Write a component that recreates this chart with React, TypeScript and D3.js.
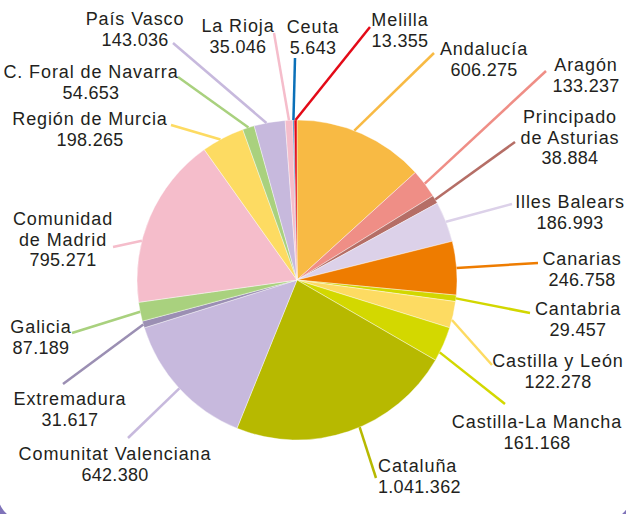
import React from "react";
import * as d3 from "d3";

const regions = [
  "Andalucía", "Aragón", "Principado de Asturias", "Illes Balears", "Canarias",
  "Cantabria", "Castilla y León", "Castilla-La Mancha", "Cataluña",
  "Comunitat Valenciana", "Extremadura", "Galicia", "Comunidad de Madrid",
  "Región de Murcia", "C. Foral de Navarra", "País Vasco", "La Rioja", "Ceuta", "Melilla",
];
const values = [
  606275, 133237, 38884, 186993, 246758, 29457, 122278, 161168, 1041362,
  642380, 31617, 87189, 795271, 198265, 54653, 143036, 35046, 5643, 13355,
];
const nameLines = [
  ["Andalucía"], ["Aragón"], ["Principado", "de Asturias"], ["Illes Balears"], ["Canarias"],
  ["Cantabria"], ["Castilla y León"], ["Castilla-La Mancha"], ["Cataluña"],
  ["Comunitat Valenciana"], ["Extremadura"], ["Galicia"], ["Comunidad", "de Madrid"],
  ["Región de Murcia"], ["C. Foral de Navarra"], ["País Vasco"], ["La Rioja"], ["Ceuta"], ["Melilla"],
];
const colors = [
  "#F8BA44", "#EF8E86", "#B56E66", "#DCD1E9", "#EE7C00",
  "#D2D700", "#FDDB62", "#D3D800", "#B7B900",
  "#C7B9DD", "#9B8FB3", "#A9D17E", "#F5BDCB",
  "#FDDB62", "#A9D17E", "#C7B9DD", "#F5BDCB", "#0B70B8", "#E30A17",
];

// Layout: label anchor (x, first baseline), text anchor, leader outer end, position within slice
const labelLayout = [
  { x: 484, y: 55, anchor: "middle", lx: 434, ly: 53, t: 0.44 },
  { x: 586, y: 71, anchor: "middle", lx: 546, ly: 71, t: 0.5 },
  { x: 570, y: 123, anchor: "middle", lx: 515, ly: 142, t: 0.5 },
  { x: 570, y: 208, anchor: "middle", lx: 512, ly: 204, t: 0.5 },
  { x: 582, y: 265, anchor: "middle", lx: 538, ly: 263, t: 0.5 },
  { x: 578, y: 315, anchor: "middle", lx: 530, ly: 313, t: 0.5 },
  { x: 558, y: 367, anchor: "middle", lx: 492, ly: 365, t: 0.7 },
  { x: 537, y: 428, anchor: "middle", lx: 505, ly: 404, t: 0.75 },
  { x: 378, y: 472, anchor: "start", lx: 376, ly: 478, t: 0.45 },
  { x: 115, y: 460, anchor: "middle", lx: 128, ly: 438, t: 0.5 },
  { x: 70, y: 405, anchor: "middle", lx: 63, ly: 384, t: 0.5 },
  { x: 41, y: 333, anchor: "middle", lx: 72, ly: 333, t: 0.5 },
  { x: 63, y: 225, anchor: "middle", lx: 113, ly: 247, t: 0.355 },
  { x: 90, y: 125, anchor: "middle", lx: 171, ly: 125, t: 0.44 },
  { x: 91, y: 78, anchor: "middle", lx: 178, ly: 77, t: 0.5 },
  { x: 135, y: 25, anchor: "middle", lx: 173, ly: 43, t: 0.4 },
  { x: 238, y: 32, anchor: "middle", lx: 274, ly: 33, t: 0.5 },
  { x: 313, y: 33, anchor: "middle", lx: 295, ly: 58, t: 0.5 },
  { x: 400, y: 26, anchor: "middle", lx: 370, ly: 27, t: 0.5 },
];

const W = 626;
const H = 514;
const CX = 297;
const CY = 280;
const R = 160;
const LINE_H = 20.6;

const fmt = d3.formatLocale({ decimal: ",", thousands: ".", grouping: [3], currency: ["", "€"] }).format(",");

export default function App() {
  const data = regions.map((name, i) => ({ name, value: values[i], i }));
  const pie = d3.pie<any>().value((d) => d.value).sort(null).startAngle(0).endAngle(2 * Math.PI);
  const arcs = pie(data);
  const arc = d3.arc<any>().innerRadius(0).outerRadius(R);

  return (
    <svg
      width={W}
      height={H}
      style={{ position: "absolute", left: 0, top: 0, background: "#fff" }}
      fontFamily="'Liberation Sans', Arial, sans-serif"
    >
      <rect x={-5} y={-200} width={639} height={724} rx={30} fill="none" stroke="#7F73B9" strokeWidth={6} />
      <g transform={`translate(${CX},${CY})`}>
        {arcs.map((a) => (
          <path key={a.data.name} d={arc(a) as string} fill={colors[a.data.i]} stroke="#fff" strokeWidth={0.4} />
        ))}
      </g>
      {arcs.map((a) => {
        const L = labelLayout[a.data.i];
        const ang = a.startAngle + (a.endAngle - a.startAngle) * L.t;
        const ix = CX + R * Math.sin(ang);
        const iy = CY - R * Math.cos(ang);
        return (
          <line key={"l" + a.data.name} x1={ix} y1={iy} x2={L.lx} y2={L.ly} stroke={colors[a.data.i]} strokeWidth={2.5} />
        );
      })}
      {arcs.map((a) => {
        const L = labelLayout[a.data.i];
        const names = nameLines[a.data.i];
        const lines = [...names, fmt(a.data.value)];
        return (
          <g key={"t" + a.data.name}>
            {lines.map((s, k) => (
              <text
                key={k}
                x={L.x}
                y={L.y + k * LINE_H}
                textAnchor={L.anchor}
                fontSize={18}
                letterSpacing={k < names.length ? 0.9 : 0.3}
                fill="#231F20"
              >
                {s}
              </text>
            ))}
          </g>
        );
      })}
    </svg>
  );
}
